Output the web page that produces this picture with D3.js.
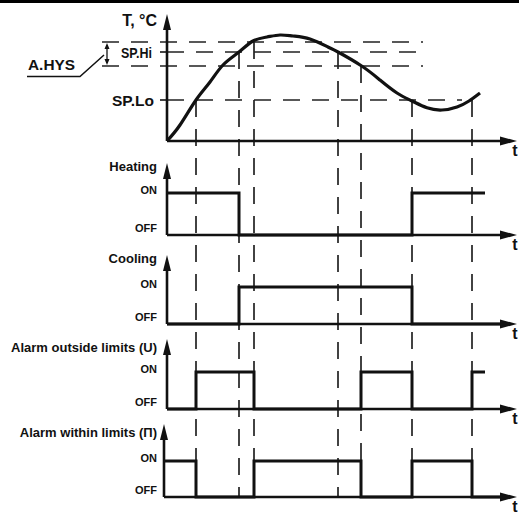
<!DOCTYPE html>
<html>
<head>
<meta charset="utf-8">
<script src="https://cdn.jsdelivr.net/npm/d3@7"></script>
<style>
  html, body { margin: 0; padding: 0; background: #fff; }
  svg { display: block; }
  text { font-family: "Liberation Sans", Arial, sans-serif; font-weight: bold; fill: #111; }
</style>
</head>
<body>
<svg id="chart" width="519" height="515"></svg>
<script>
// ---------------- data ----------------
// time axis units (0 .. 105)
const timeDomain = [0, 105];
// temperature curve (t, T)
const curveT = [0, 3.9, 8.7, 12.9, 16.8, 21.6, 25.8, 30, 33.9, 37.8, 42.9, 48.3, 51.3, 58.4, 63.9, 69, 73.5, 78, 82.5, 87, 90.6, 93.9];
const curveTemp = [0, 8, 20.5, 29.5, 38, 44.5, 50, 52, 53, 52.5, 51, 47, 44.5, 37.5, 30.5, 24, 20, 16.6, 15.5, 17, 20, 24];
// set-point levels (temperature units)
const levelNames = ["A.HYS+", "SP.Hi", "A.HYS-", "SP.Lo"];
const levelValues = [49.5, 44.5, 37.5, 20.5];
const levelEnds = [76.8, 76.8, 76.8, 88.5];
// switching moments and the level each one comes from
const eventTimes = [8.7, 21.6, 26.1, 51.3, 58.2, 73.5, 91.5];
const eventLevels = ["SP.Lo", "SP.Hi", "A.HYS+", "SP.Hi", "A.HYS-", "SP.Lo", "SP.Lo"];
// output states [t, state]
const heating = [[0, 1], [21.6, 0], [73.5, 1], [95.4, 1]];
const cooling = [[0, 0], [21.6, 1], [73.5, 0], [100, 0]];
const alarmOutside = [[0, 0], [8.7, 1], [26.1, 0], [58.2, 1], [73.5, 0], [91.5, 1], [95.4, 1]];
const alarmWithin = [[0, 1], [8.7, 0], [26.1, 1], [58.2, 0], [73.5, 1], [91.5, 0], [100, 0]];
const panelLabels = ["Heating", "Cooling", "Alarm outside limits (U)", "Alarm within limits (П)"];
const stateLabels = ["OFF", "ON"];

// ---------------- layout ----------------
const svg = d3.select("#chart");
const x = d3.scaleLinear().domain(timeDomain).range([167, 517]);
const yT = d3.scaleLinear().domain([0, 63.5]).range([141, 14]);
const bottomY = 497;

const panels = [
  { data: heating, base: 235, on: 193, tip: 163, labelY: 166, axisX: 167 },
  { data: cooling, base: 324, on: 287, tip: 255, labelY: 258, axisX: 167 },
  { data: alarmOutside, base: 409, on: 372, tip: 339, labelY: 347, axisX: 167 },
  { data: alarmWithin, base: 497, on: 461, tip: 424, labelY: 432, axisX: 164 }
];

svg.append("rect").attr("x", 0).attr("y", 0).attr("width", 519).attr("height", 3).attr("fill", "#000");

const dash = "17,12";

// helper arrows
function xAxis(y, x0) {
  svg.append("line").attr("x1", x0).attr("x2", 503).attr("y1", y).attr("y2", y)
    .attr("stroke", "#111").attr("stroke-width", 2.6);
  svg.append("path").attr("d", `M500,${y - 4.5}L517,${y}L500,${y + 4.5}Z`).attr("fill", "#111");
  svg.append("text").attr("x", 515).attr("y", y + 9).attr("text-anchor", "middle")
    .attr("dominant-baseline", "central").attr("font-size", 16).text("t");
}
function yAxis(x0, yBottom, yTip) {
  svg.append("line").attr("x1", x0).attr("x2", x0).attr("y1", yBottom).attr("y2", yTip + 12)
    .attr("stroke", "#111").attr("stroke-width", 2.6);
  svg.append("path").attr("d", `M${x0 - 4},${yTip + 16}L${x0},${yTip}L${x0 + 4},${yTip + 16}Z`).attr("fill", "#111");
}

// ---------------- horizontal set-point dashes ----------------
const g = svg.append("g");
levelNames.forEach((n, i) => {
  const startX = n.startsWith("A.HYS") ? 102 : x(0);
  g.append("line").attr("x1", startX).attr("x2", x(levelEnds[i]))
    .attr("y1", yT(levelValues[i])).attr("y2", yT(levelValues[i]))
    .attr("stroke", "#222").attr("stroke-width", 1.7).attr("stroke-dasharray", dash);
});
// short ticks for SP.Hi / SP.Lo
["SP.Hi", "SP.Lo"].forEach(n => {
  const v = levelValues[levelNames.indexOf(n)];
  g.append("line").attr("x1", 160).attr("x2", 168).attr("y1", yT(v)).attr("y2", yT(v))
    .attr("stroke", "#222").attr("stroke-width", 1.7);
});

// ---------------- vertical event dashes ----------------
eventTimes.forEach((t, i) => {
  const v = levelValues[levelNames.indexOf(eventLevels[i])];
  g.append("line").attr("x1", x(t)).attr("x2", x(t))
    .attr("y1", yT(v)).attr("y2", bottomY)
    .attr("stroke", "#222").attr("stroke-width", 1.7).attr("stroke-dasharray", dash);
});

// ---------------- temperature panel ----------------
yAxis(x(0), yT(0), yT(63.5));
xAxis(yT(0), x(0));
const tempLine = d3.line().x(d => x(d[0])).y(d => yT(d[1])).curve(d3.curveNatural);
svg.append("path").datum(curveT.map((t, i) => [t, curveTemp[i]]))
  .attr("d", tempLine).attr("fill", "none").attr("stroke", "#111").attr("stroke-width", 3.2);

svg.append("text").attr("x", 157).attr("y", 20).attr("text-anchor", "end")
  .attr("dominant-baseline", "central").attr("font-size", 16).text("T, °C");
svg.append("text").attr("x", 152).attr("y", yT(levelValues[1])).attr("text-anchor", "end")
  .attr("dominant-baseline", "central").attr("font-size", 15)
  .attr("textLength", 31).attr("lengthAdjust", "spacingAndGlyphs").text("SP.Hi");
svg.append("text").attr("x", 154).attr("y", yT(levelValues[3])).attr("text-anchor", "end")
  .attr("dominant-baseline", "central").attr("font-size", 15)
  .attr("textLength", 42).attr("lengthAdjust", "spacingAndGlyphs").text("SP.Lo");
svg.append("text").attr("x", 28).attr("y", 64).attr("text-anchor", "start")
  .attr("dominant-baseline", "central").attr("font-size", 15.5)
  .attr("textLength", 47).attr("lengthAdjust", "spacingAndGlyphs").text("A.HYS");

// A.HYS leader + double arrow
svg.append("path").attr("d", "M27,76.5L80,76.5L104,55").attr("fill", "none")
  .attr("stroke", "#111").attr("stroke-width", 1.5);
const ya = yT(levelValues[0]), yb = yT(levelValues[2]);
svg.append("line").attr("x1", 107).attr("x2", 107).attr("y1", ya + 3).attr("y2", yb - 3)
  .attr("stroke", "#111").attr("stroke-width", 1.3);
svg.append("path").attr("d", `M104.5,${ya + 7}L107,${ya + 1}L109.5,${ya + 7}Z`).attr("fill", "#111");
svg.append("path").attr("d", `M104.5,${yb - 7}L107,${yb - 1}L109.5,${yb - 7}Z`).attr("fill", "#111");

// ---------------- state panels ----------------
panels.forEach((p, i) => {
  const ys = d3.scaleLinear().domain([0, 1]).range([p.base, p.on]);
  yAxis(p.axisX, p.base, p.tip);
  xAxis(p.base, p.axisX);
  const line = d3.line()
    .x((d, j) => j === 0 ? p.axisX : x(d[0]))
    .y(d => ys(d[1])).curve(d3.curveStepAfter);
  svg.append("path").datum(p.data).attr("d", line).attr("fill", "none")
    .attr("stroke", "#111").attr("stroke-width", 3).attr("stroke-linejoin", "miter");
  svg.append("text").attr("x", 157).attr("y", p.labelY).attr("text-anchor", "end")
    .attr("dominant-baseline", "central").attr("font-size", 13).text(panelLabels[i]);
  svg.append("text").attr("x", 157).attr("y", ys(1) - 3).attr("text-anchor", "end")
    .attr("dominant-baseline", "central").attr("font-size", 11).text(stateLabels[1]);
  svg.append("text").attr("x", 157).attr("y", ys(0) - 7).attr("text-anchor", "end")
    .attr("dominant-baseline", "central").attr("font-size", 11).text(stateLabels[0]);
});
</script>
</body>
</html>
